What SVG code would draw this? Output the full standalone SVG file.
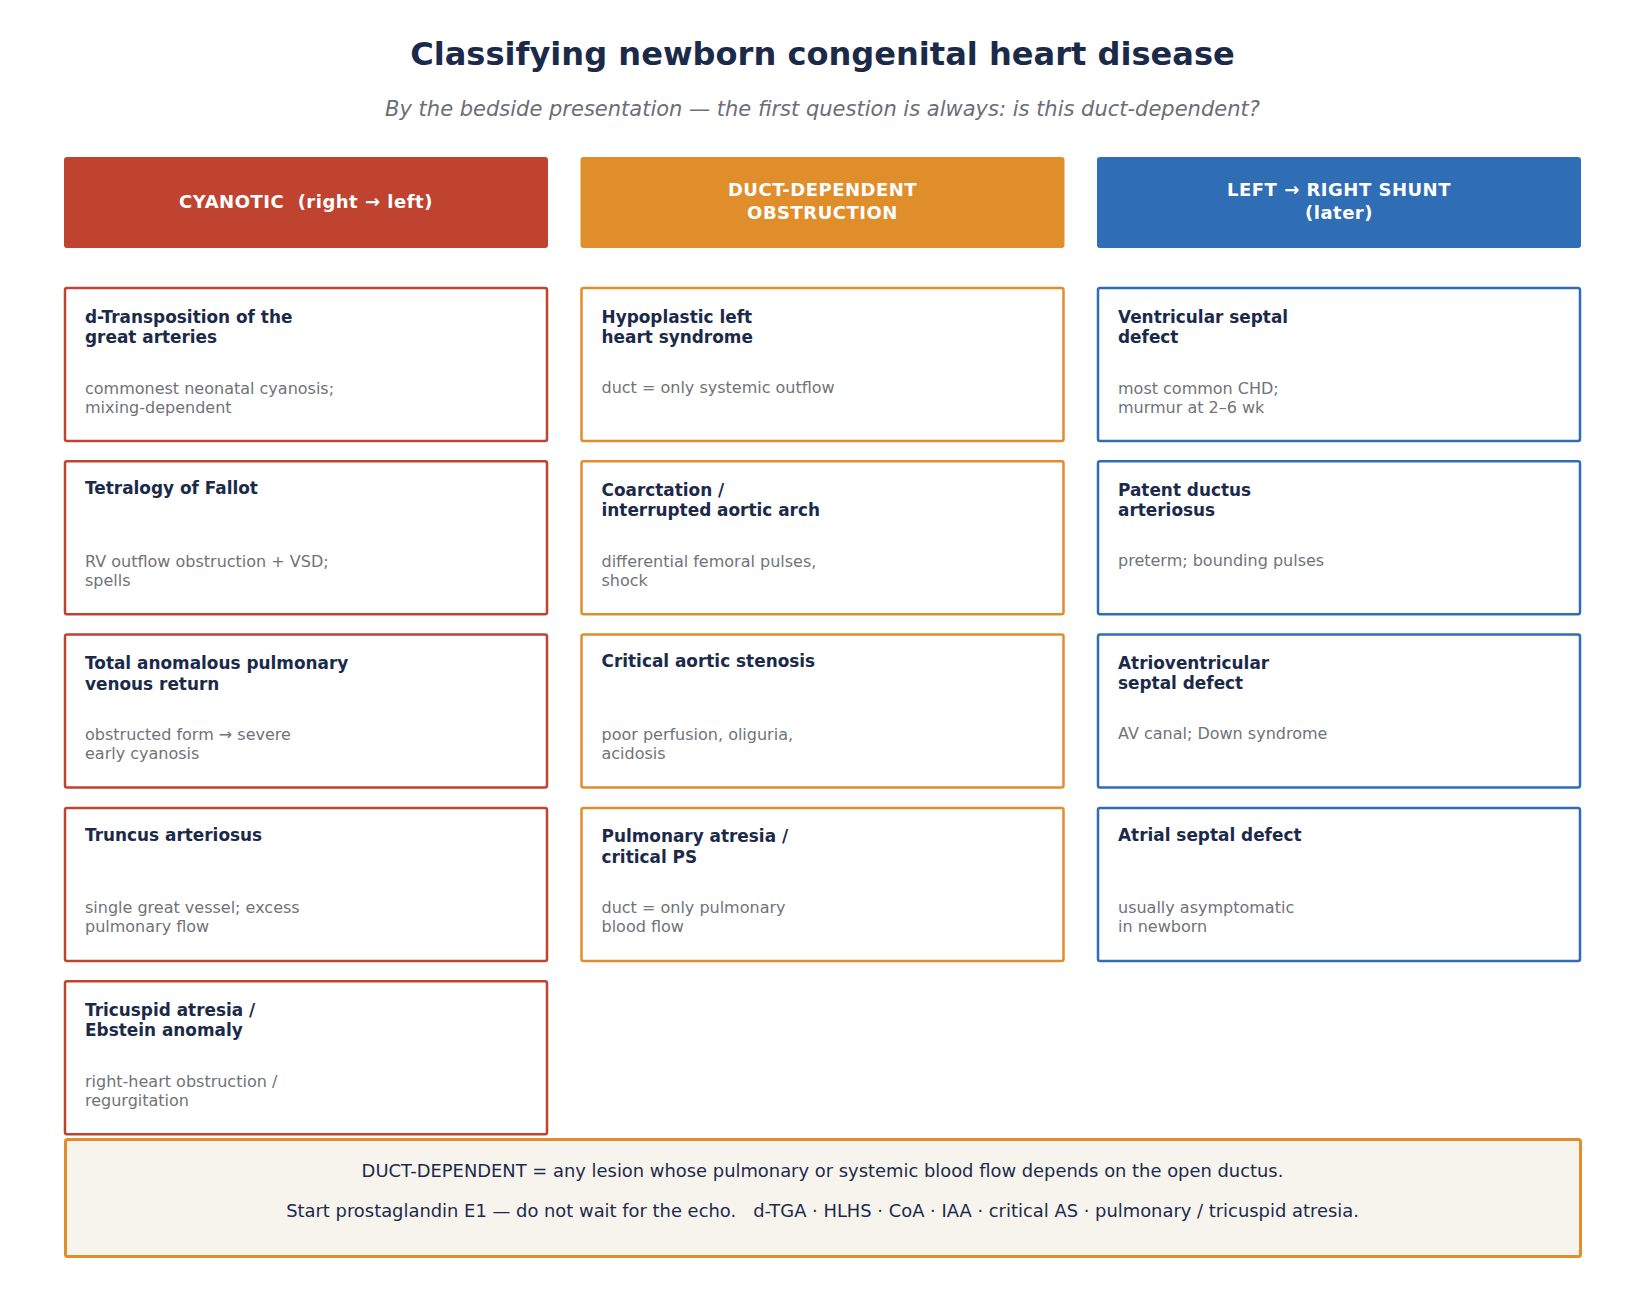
<svg xmlns="http://www.w3.org/2000/svg" width="1645" height="1315" viewBox="0 0 1645 1315">
<style>
.bg{fill:#ffffff}
.title{font-family:"DejaVu Sans",sans-serif;font-weight:bold;font-size:32.1px;fill:#1c2a4a;text-anchor:middle}
.subtitle{font-family:"DejaVu Sans",sans-serif;font-style:italic;font-size:21px;fill:#6b6e75;text-anchor:middle}
.hdr text{font-family:"DejaVu Sans",sans-serif;font-weight:bold;font-size:18px;fill:#ffffff;text-anchor:middle;letter-spacing:0.5px;white-space:pre}
.card rect{fill:#ffffff;stroke-width:2.5}
.red rect{stroke:#c0432f}
.orange rect{stroke:#e08e2b}
.blue rect{stroke:#2f6db5}
.ct{font-family:"DejaVu Sans",sans-serif;font-weight:bold;font-size:16.9px;fill:#1c2a4a}
.cs{font-family:"DejaVu Sans",sans-serif;font-size:16px;fill:#707378}
.foot rect{fill:#f7f4ee;stroke:#e08e2b;stroke-width:3}
.foot text{font-family:"DejaVu Sans",sans-serif;font-size:17.9px;fill:#1c2a4a;text-anchor:middle;white-space:pre}
</style>
<rect class="bg" x="0" y="0" width="1645" height="1315"/>
<g id="title-block">
<text class="title" x="822.5" y="65">Classifying newborn congenital heart disease</text>
<text class="subtitle" x="822.5" y="116">By the bedside presentation — the first question is always: is this duct-dependent?</text>
</g>
<g id="header-cyanotic" class="hdr">
<rect x="64" y="157" width="484" height="91" rx="3" fill="#c0432f"/>
<text x="306" y="207.5" xml:space="preserve">CYANOTIC  (right → left)</text>
</g>
<g id="header-duct" class="hdr">
<rect x="580.5" y="157" width="484" height="91" rx="3" fill="#e08e2b"/>
<text x="822.5" y="196">DUCT-DEPENDENT</text>
<text x="822.5" y="219">OBSTRUCTION</text>
</g>
<g id="header-shunt" class="hdr">
<rect x="1097" y="157" width="484" height="91" rx="3" fill="#2f6db5"/>
<text x="1339" y="196">LEFT → RIGHT SHUNT</text>
<text x="1339" y="219">(later)</text>
</g>
<g id="connectors"></g>

<g id="card-dtga" class="card red">
<rect x="65" y="288" width="482" height="153" rx="2"/>
<text class="ct" x="85" y="322.5">d-Transposition of the</text>
<text class="ct" x="85" y="343">great arteries</text>
<text class="cs" x="85" y="394">commonest neonatal cyanosis;</text>
<text class="cs" x="85" y="413">mixing-dependent</text>
</g>
<g id="card-tof" class="card red">
<rect x="65" y="461.3" width="482" height="153" rx="2"/>
<text class="ct" x="85" y="494">Tetralogy of Fallot</text>
<text class="cs" x="85" y="566.5">RV outflow obstruction + VSD;</text>
<text class="cs" x="85" y="585.5">spells</text>
</g>
<g id="card-tapvr" class="card red">
<rect x="65" y="634.6" width="482" height="153" rx="2"/>
<text class="ct" x="85" y="669">Total anomalous pulmonary</text>
<text class="ct" x="85" y="689.5">venous return</text>
<text class="cs" x="85" y="740">obstructed form → severe</text>
<text class="cs" x="85" y="759">early cyanosis</text>
</g>
<g id="card-truncus" class="card red">
<rect x="65" y="807.9" width="482" height="153" rx="2"/>
<text class="ct" x="85" y="840.5">Truncus arteriosus</text>
<text class="cs" x="85" y="913">single great vessel; excess</text>
<text class="cs" x="85" y="932">pulmonary flow</text>
</g>
<g id="card-tricuspid" class="card red">
<rect x="65" y="981.2" width="482" height="153" rx="2"/>
<text class="ct" x="85" y="1015.5">Tricuspid atresia /</text>
<text class="ct" x="85" y="1036">Ebstein anomaly</text>
<text class="cs" x="85" y="1086.5">right-heart obstruction /</text>
<text class="cs" x="85" y="1105.5">regurgitation</text>
</g>

<g id="card-hlhs" class="card orange">
<rect x="581.5" y="288" width="482" height="153" rx="2"/>
<text class="ct" x="601.5" y="322.5">Hypoplastic left</text>
<text class="ct" x="601.5" y="343">heart syndrome</text>
<text class="cs" x="601.5" y="392.5">duct = only systemic outflow</text>
</g>
<g id="card-coa" class="card orange">
<rect x="581.5" y="461.3" width="482" height="153" rx="2"/>
<text class="ct" x="601.5" y="495.5">Coarctation /</text>
<text class="ct" x="601.5" y="516">interrupted aortic arch</text>
<text class="cs" x="601.5" y="566.5">differential femoral pulses,</text>
<text class="cs" x="601.5" y="585.5">shock</text>
</g>
<g id="card-cas" class="card orange">
<rect x="581.5" y="634.6" width="482" height="153" rx="2"/>
<text class="ct" x="601.5" y="667">Critical aortic stenosis</text>
<text class="cs" x="601.5" y="740">poor perfusion, oliguria,</text>
<text class="cs" x="601.5" y="759">acidosis</text>
</g>
<g id="card-pa" class="card orange">
<rect x="581.5" y="807.9" width="482" height="153" rx="2"/>
<text class="ct" x="601.5" y="842">Pulmonary atresia /</text>
<text class="ct" x="601.5" y="862.5">critical PS</text>
<text class="cs" x="601.5" y="913">duct = only pulmonary</text>
<text class="cs" x="601.5" y="932">blood flow</text>
</g>

<g id="card-vsd" class="card blue">
<rect x="1098" y="288" width="482" height="153" rx="2"/>
<text class="ct" x="1118" y="322.5">Ventricular septal</text>
<text class="ct" x="1118" y="343">defect</text>
<text class="cs" x="1118" y="394">most common CHD;</text>
<text class="cs" x="1118" y="413">murmur at 2–6 wk</text>
</g>
<g id="card-pda" class="card blue">
<rect x="1098" y="461.3" width="482" height="153" rx="2"/>
<text class="ct" x="1118" y="495.5">Patent ductus</text>
<text class="ct" x="1118" y="516">arteriosus</text>
<text class="cs" x="1118" y="565.5">preterm; bounding pulses</text>
</g>
<g id="card-avsd" class="card blue">
<rect x="1098" y="634.6" width="482" height="153" rx="2"/>
<text class="ct" x="1118" y="668.5">Atrioventricular</text>
<text class="ct" x="1118" y="689">septal defect</text>
<text class="cs" x="1118" y="738.5">AV canal; Down syndrome</text>
</g>
<g id="card-asd" class="card blue">
<rect x="1098" y="807.9" width="482" height="153" rx="2"/>
<text class="ct" x="1118" y="840.5">Atrial septal defect</text>
<text class="cs" x="1118" y="913">usually asymptomatic</text>
<text class="cs" x="1118" y="932">in newborn</text>
</g>

<g id="footer-note" class="foot">
<rect x="65.5" y="1139.5" width="1515" height="117" rx="2"/>
<text x="822.5" y="1176.5">DUCT-DEPENDENT = any lesion whose pulmonary or systemic blood flow depends on the open ductus.</text>
<text x="822.5" y="1216.5" xml:space="preserve">Start prostaglandin E1 — do not wait for the echo.   d-TGA · HLHS · CoA · IAA · critical AS · pulmonary / tricuspid atresia.</text>
</g>
</svg>
